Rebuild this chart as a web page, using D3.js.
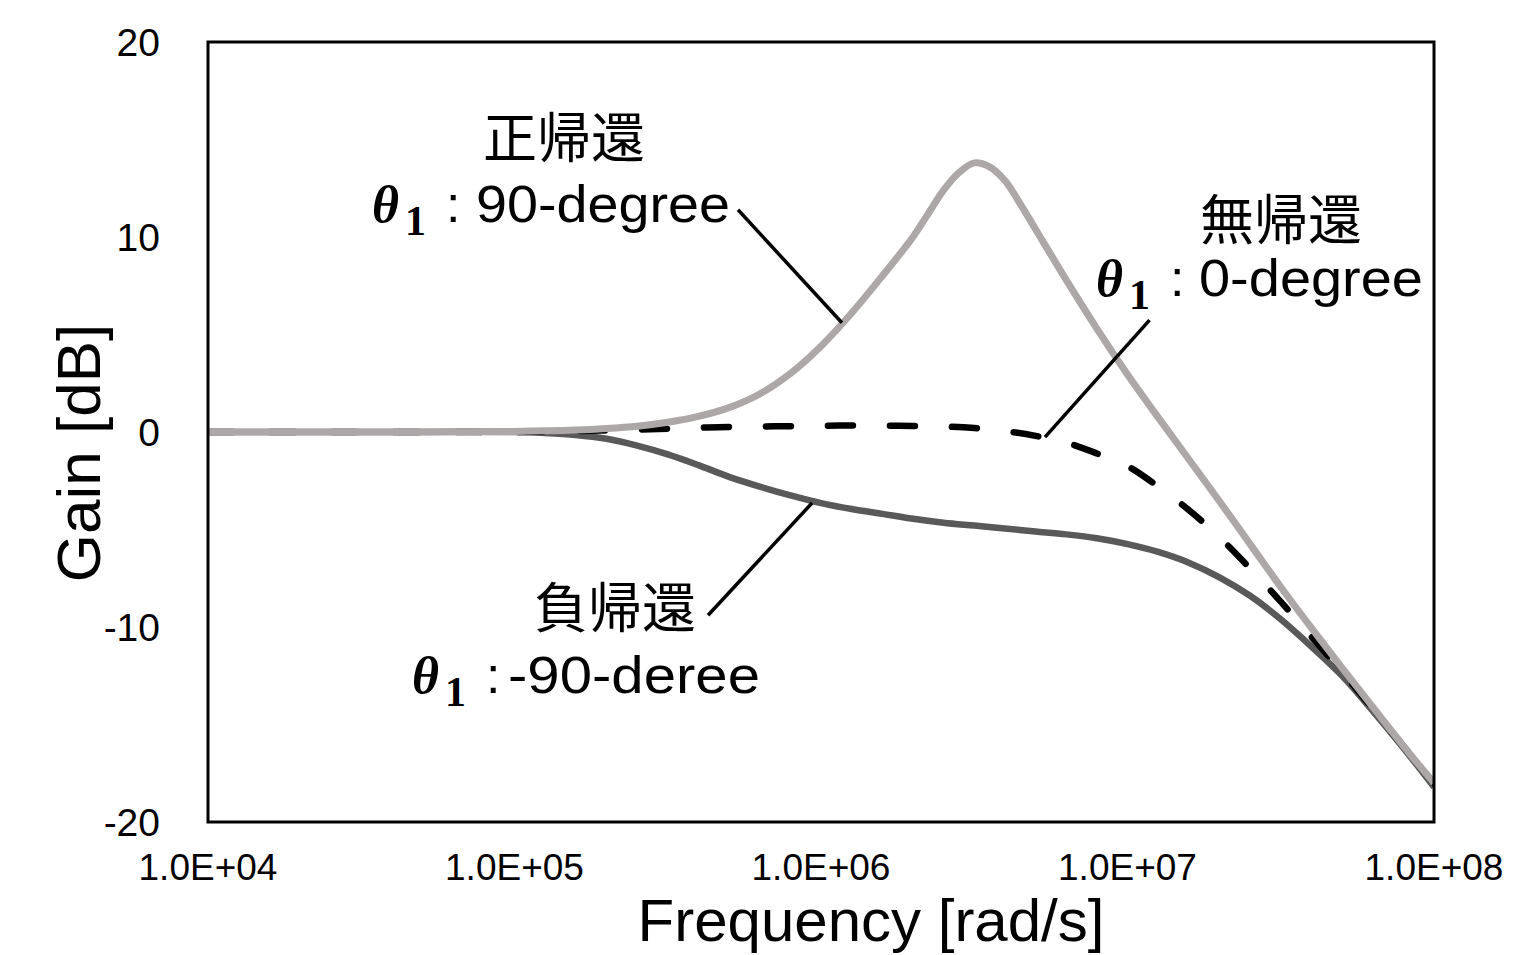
<!DOCTYPE html>
<html><head><meta charset="utf-8">
<script src="https://cdn.jsdelivr.net/npm/d3@7"></script>
<style>
html,body{margin:0;padding:0;background:#fff;}
svg{display:block;}
</style></head>
<body>
<svg id="chart" width="1540" height="955"></svg>
<script>
// ---- data ----
// frequencies as decade exponents (rad/s = 10^e)
const expCommon = [4.0, 4.5, 5.0, 5.1, 5.2, 5.3, 5.4, 5.5, 5.6, 5.7, 5.8, 5.9, 6.0, 6.1, 6.2, 6.3, 6.4, 6.5, 6.6, 6.7, 6.8, 6.9, 7.0, 7.1, 7.2, 7.3, 7.4, 7.5, 7.6, 7.7, 7.8, 7.9, 8.0];
const gainNone     = [0, 0, 0, 0.02, 0.05, 0.08, 0.12, 0.17, 0.22, 0.26, 0.28, 0.3, 0.32, 0.33, 0.33, 0.31, 0.28, 0.2, 0.05, -0.2, -0.55, -1.1, -1.75, -2.8, -4.0, -5.4, -7.0, -8.7, -10.5, -12.3, -14.2, -16.1, -18.0];
const gainNegative = [0, 0, 0, -0.05, -0.15, -0.35, -0.7, -1.15, -1.7, -2.3, -2.8, -3.25, -3.65, -3.95, -4.2, -4.45, -4.65, -4.8, -4.95, -5.1, -5.25, -5.45, -5.75, -6.15, -6.7, -7.45, -8.4, -9.6, -11.0, -12.5, -14.3, -16.2, -18.2];
const expPositive = [4.0, 4.5, 5.0, 5.2, 5.3, 5.4, 5.5, 5.6, 5.7, 5.8, 5.9, 6.0, 6.1, 6.2, 6.3, 6.35, 6.4, 6.45, 6.5, 6.55, 6.6, 6.65, 6.7, 6.8, 6.9, 7.0, 7.1, 7.2, 7.3, 7.4, 7.5, 7.6, 7.7, 7.8, 7.9, 8.0];
const gainPositive = [0, 0, 0.03, 0.1, 0.18, 0.3, 0.5, 0.8, 1.25, 1.95, 3.0, 4.4, 6.1, 8.0, 10.0, 11.2, 12.4, 13.3, 13.8, 13.6, 12.9, 11.7, 10.4, 7.8, 5.3, 2.95, 0.75, -1.4, -3.55, -5.75, -7.95, -10.05, -12.1, -14.1, -16.1, -18.0];

const xTicks = [1e4, 1e5, 1e6, 1e7, 1e8];
const xTickLabels = ["1.0E+04", "1.0E+05", "1.0E+06", "1.0E+07", "1.0E+08"];
const yTicks = [-20, -10, 0, 10, 20];
const yTickLabels = ["-20", "-10", "0", "10", "20"];
const xTitle = "Frequency [rad/s]";
const yTitle = "Gain [dB]";
const seriesTitles = ["正帰還", "無帰還", "負帰還"];
const seriesAngles = ["90-degree", "0-degree", "-90-deree"];

// annotation leader lines: [f1, g1, f2, g2]
const leaderPositive = [5.36e5, 11.4, 1.17e6, 5.6];
const leaderNone = [1.18e7, 5.74, 5.38e6, -0.26];
const leaderNegative = [4.28e5, -9.4, 9.35e5, -3.64];

// ---- layout ----
const svg = d3.select("#chart");
const L = 208, R = 1434, T = 42, B = 822;
const x = d3.scaleLog().domain([1e4, 1e8]).range([L, R]);
const y = d3.scaleLinear().domain([-20, 20]).range([B, T]);

const sansFont = "'Liberation Sans', Arial, sans-serif";
const cjkFont = "'Noto Sans CJK JP', sans-serif";
const serifFont = "'Liberation Serif', 'DejaVu Serif', serif";

// x tick labels
svg.append("g").selectAll("text").data(xTicks).join("text")
  .attr("x", d => x(d)).attr("y", 880)
  .attr("text-anchor", "middle")
  .attr("font-family", sansFont).attr("font-size", 37)
  .text((d, i) => xTickLabels[i]);

// y tick labels
svg.append("g").selectAll("text").data(yTicks).join("text")
  .attr("x", 160).attr("y", d => y(d) + 14)
  .attr("text-anchor", "end")
  .attr("font-family", sansFont).attr("font-size", 39)
  .text((d, i) => yTickLabels[i]);

// axis titles
svg.append("text").attr("x", 871).attr("y", 941)
  .attr("text-anchor", "middle").attr("font-family", sansFont).attr("font-size", 60)
  .text(xTitle);
svg.append("text").attr("transform", "translate(100,453) rotate(-90)")
  .attr("text-anchor", "middle").attr("font-family", sansFont).attr("font-size", 62)
  .text(yTitle);

// curves
const line = (exps, vals) => d3.line()
  .x((d, i) => x(Math.pow(10, exps[i])))
  .y(d => y(d))
  .curve(d3.curveCatmullRom.alpha(0.5))(vals);

svg.append("clipPath").attr("id", "clip")
  .append("rect").attr("x", L).attr("y", T).attr("width", R - L).attr("height", B - T);

const plot = svg.append("g").attr("clip-path", "url(#clip)");

plot.append("path").attr("d", line(expCommon, gainNegative))
  .attr("fill", "none").attr("stroke", "#595959").attr("stroke-width", 6.5);
plot.append("path").attr("d", line(expCommon, gainNone))
  .attr("fill", "none").attr("stroke", "#000").attr("stroke-width", 6.5)
  .attr("stroke-linecap", "round").attr("stroke-dasharray", "25,37");
plot.append("path").attr("d", line(expPositive, gainPositive))
  .attr("fill", "none").attr("stroke", "#aba8a7").attr("stroke-width", 7);

// frame
svg.append("rect").attr("x", L).attr("y", T).attr("width", R - L).attr("height", B - T)
  .attr("fill", "none").attr("stroke", "#000").attr("stroke-width", 3);

// leader lines
[leaderPositive, leaderNone, leaderNegative].forEach(l => {
  svg.append("line")
    .attr("x1", x(l[0])).attr("y1", y(l[1]))
    .attr("x2", x(l[2])).attr("y2", y(l[3]))
    .attr("stroke", "#000").attr("stroke-width", 3.5);
});

// annotations
function label(cx, titleY, titleText, thetaX, baseY, restX, restW, restText) {
  svg.append("text").attr("x", cx).attr("y", titleY)
    .attr("text-anchor", "middle").attr("font-family", cjkFont).attr("font-size", 54)
    .text(titleText);
  svg.append("text").attr("x", thetaX).attr("y", baseY)
    .attr("font-family", serifFont).attr("font-weight", "bold")
    .attr("font-style", "italic").attr("font-size", 52).text("θ");
  svg.append("text").attr("x", thetaX + 33).attr("y", baseY + 13)
    .attr("font-family", serifFont).attr("font-weight", "bold")
    .attr("font-size", 42).text("1");
  svg.append("text").attr("x", thetaX + 74).attr("y", baseY)
    .attr("font-family", sansFont).attr("font-size", 52).text(":");
  svg.append("text").attr("x", restX).attr("y", baseY)
    .attr("font-family", sansFont).attr("font-size", 52)
    .attr("textLength", restW).attr("lengthAdjust", "spacingAndGlyphs")
    .text(restText);
}
label(564, 158, seriesTitles[0], 372, 222, 476, 254, seriesAngles[0]);
label(1281, 240, seriesTitles[1], 1096, 296, 1199, 224, seriesAngles[1]);
label(615, 628, seriesTitles[2], 412, 693, 508, 252, seriesAngles[2]);
</script>
</body></html>
